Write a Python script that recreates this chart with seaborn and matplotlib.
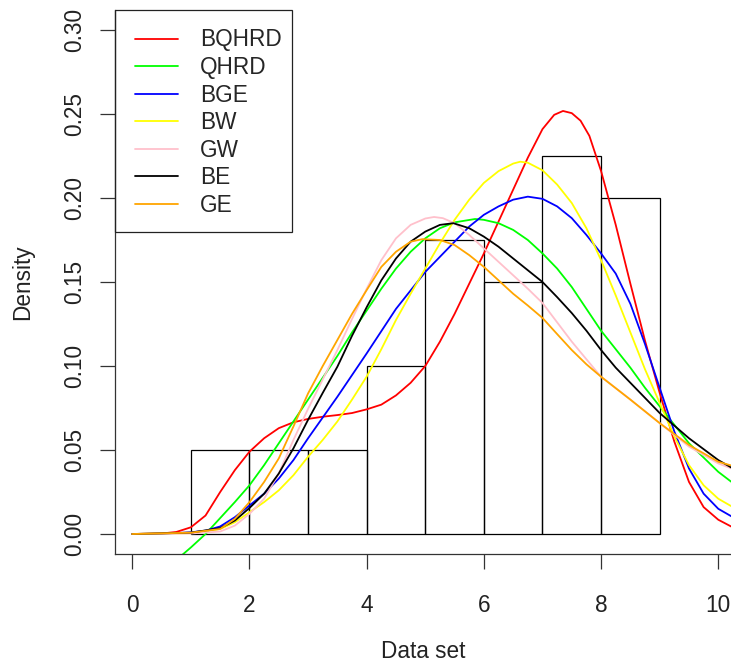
import matplotlib
matplotlib.use('Agg')
import matplotlib.pyplot as plt
from matplotlib.patches import Rectangle
import seaborn as sns

sns.set_style('ticks')
plt.rcParams['font.family'] = ['Liberation Sans', 'DejaVu Sans']

# histogram: bin edges and counts (40 obs)
bin_edges = [1, 2, 3, 4, 5, 6, 7, 8, 9]
bin_mids = [1.5, 2.5, 3.5, 4.5, 5.5, 6.5, 7.5, 8.5]
bin_counts = [2, 2, 2, 4, 7, 6, 9, 8]

# fitted density curves
x_bqhrd = [0, 0.5, 0.75, 1, 1.25, 1.5, 1.75, 2, 2.25, 2.5, 2.75, 3, 3.25, 3.5, 3.75, 4, 4.25, 4.5, 4.75, 5,
           5.25, 5.5, 5.75, 6, 6.25, 6.5, 6.75, 7, 7.2, 7.35, 7.5, 7.65, 7.8, 8, 8.25, 8.5, 8.75, 9,
           9.25, 9.5, 9.75, 10, 10.3]
y_bqhrd = [0, 0.0003, 0.0012, 0.004, 0.011, 0.025, 0.038, 0.049, 0.057, 0.063, 0.0665, 0.0685, 0.0698, 0.0708,
           0.072, 0.0742, 0.077, 0.0825, 0.090, 0.100, 0.1145, 0.131, 0.149, 0.167, 0.186, 0.205, 0.224, 0.241,
           0.2495, 0.2518, 0.2505, 0.246, 0.237, 0.216, 0.184, 0.149, 0.115, 0.084, 0.055, 0.031, 0.016,
           0.0085, 0.003]

x_qhrd = [0.8, 1, 1.25, 1.5, 1.75, 2, 2.25, 2.5, 2.75, 3, 3.25, 3.5, 3.75, 4, 4.25, 4.5, 4.75, 5, 5.25, 5.5,
          5.85, 6, 6.25, 6.5, 6.75, 7, 7.25, 7.5, 7.75, 8, 8.25, 8.5, 8.75, 9, 9.5, 10, 10.3]
y_qhrd = [-0.014, -0.008, 0.0, 0.0095, 0.019, 0.029, 0.041, 0.054, 0.067, 0.080, 0.093, 0.106, 0.120, 0.133,
          0.146, 0.158, 0.168, 0.176, 0.182, 0.1855, 0.1875, 0.187, 0.185, 0.181, 0.175, 0.167, 0.158, 0.147,
          0.134, 0.121, 0.110, 0.099, 0.087, 0.076, 0.054, 0.037, 0.029]

x_bge = [0, 0.5, 1, 1.25, 1.5, 1.75, 2, 2.25, 2.5, 2.75, 3, 3.5, 4, 4.5, 4.75, 5, 5.25, 5.5, 5.75, 6, 6.25,
         6.5, 6.75, 7, 7.25, 7.5, 7.75, 8, 8.25, 8.5, 8.75, 9, 9.25, 9.5, 9.75, 10, 10.3]
y_bge = [0, 0.0001, 0.001, 0.002, 0.0045, 0.010, 0.017, 0.024, 0.033, 0.044, 0.057, 0.0817, 0.1075, 0.134,
         0.145, 0.156, 0.165, 0.174, 0.183, 0.190, 0.195, 0.199, 0.2008, 0.1995, 0.195, 0.188, 0.178, 0.167,
         0.155, 0.137, 0.113, 0.087, 0.061, 0.039, 0.024, 0.015, 0.009]

x_bw = [0, 1, 1.5, 1.75, 2, 2.25, 2.5, 2.75, 3, 3.25, 3.5, 3.75, 4, 4.25, 4.5, 4.75, 5, 5.25, 5.5, 5.75, 6,
        6.25, 6.5, 6.62, 6.75, 7, 7.25, 7.5, 7.75, 8, 8.25, 8.5, 8.75, 9, 9.25, 9.5, 9.75, 10, 10.3]
y_bw = [0, 0.0005, 0.003, 0.007, 0.013, 0.019, 0.026, 0.035, 0.046, 0.056, 0.067, 0.080, 0.0937, 0.110,
        0.1274, 0.143, 0.158, 0.173, 0.187, 0.199, 0.209, 0.216, 0.2205, 0.2216, 0.221, 0.2165, 0.208, 0.197,
        0.182, 0.163, 0.142, 0.120, 0.098, 0.078, 0.058, 0.041, 0.029, 0.021, 0.015]

x_gw = [0, 1, 1.5, 1.75, 2, 2.25, 2.5, 2.75, 3, 3.25, 3.5, 3.75, 4, 4.25, 4.5, 4.75, 5, 5.15, 5.3, 5.5, 5.75,
        6, 6.25, 6.5, 6.75, 7, 7.25, 7.5, 7.75, 8, 8.5, 9, 9.5, 10, 10.3]
y_gw = [0, 0.0003, 0.0015, 0.005, 0.012, 0.021, 0.036, 0.056, 0.0745, 0.092, 0.1095, 0.128, 0.146, 0.163,
        0.176, 0.184, 0.1878, 0.1887, 0.188, 0.185, 0.178, 0.170, 0.162, 0.154, 0.146, 0.1375, 0.126, 0.1145,
        0.104, 0.0936, 0.080, 0.066, 0.052, 0.042, 0.038]

x_be = [0, 1, 1.5, 1.75, 2, 2.25, 2.5, 2.75, 3, 3.25, 3.5, 3.75, 4, 4.25, 4.5, 4.75, 5, 5.25, 5.48, 5.75, 6,
        6.25, 6.5, 6.75, 7, 7.25, 7.5, 7.75, 8, 8.25, 8.5, 8.75, 9, 9.5, 10, 10.3]
y_be = [0, 0.0008, 0.0035, 0.008, 0.0155, 0.024, 0.036, 0.051, 0.068, 0.084, 0.0996, 0.118, 0.135, 0.151,
        0.164, 0.174, 0.180, 0.184, 0.185, 0.182, 0.177, 0.171, 0.164, 0.157, 0.150, 0.141, 0.1315, 0.121,
        0.1095, 0.099, 0.090, 0.081, 0.072, 0.057, 0.044, 0.038]

x_ge = [0, 1, 1.5, 1.75, 2, 2.25, 2.5, 2.75, 3, 3.25, 3.5, 3.75, 4, 4.25, 4.5, 4.75, 4.95, 5.25, 5.5, 5.75, 6,
        6.25, 6.5, 6.75, 7, 7.25, 7.5, 7.75, 8, 8.5, 9, 9.5, 10, 10.3]
y_ge = [0, 0.0008, 0.003, 0.009, 0.019, 0.031, 0.045, 0.064, 0.0837, 0.100, 0.1155, 0.131, 0.1452, 0.159,
        0.168, 0.174, 0.1755, 0.175, 0.172, 0.166, 0.159, 0.151, 0.143, 0.136, 0.1286, 0.119, 0.1095, 0.101,
        0.0936, 0.080, 0.066, 0.053, 0.043, 0.040]

curves = [
    ('BQHRD', x_bqhrd, y_bqhrd, '#FF0000'),
    ('QHRD', x_qhrd, y_qhrd, '#00FF00'),
    ('BGE', x_bge, y_bge, '#0000FF'),
    ('BW', x_bw, y_bw, '#FFFF00'),
    ('GW', x_gw, y_gw, '#FFC0CB'),
    ('BE', x_be, y_be, '#000000'),
    ('GE', x_ge, y_ge, '#FFA500'),
]

x_ticks = [0, 2, 4, 6, 8, 10]
y_ticks = [0.00, 0.05, 0.10, 0.15, 0.20, 0.25, 0.30]

fig = plt.figure(figsize=(7.31, 6.63), dpi=100)
ax = fig.add_axes([115 / 731, 109 / 663, 616 / 731, 544 / 663])

sns.histplot(x=bin_mids, weights=bin_counts, bins=bin_edges, stat='density',
             fill=False, color='black', linewidth=0.9, ax=ax)

for name, xs, ys, col in curves:
    sns.lineplot(x=xs, y=ys, color=col, linewidth=1.3, label=name, ax=ax)

ax.set_xlim(-0.295, 10.217)
ax.set_ylim(-0.0119, 0.3119)
ax.set_xticks(x_ticks)
ax.set_xticklabels([str(t) for t in x_ticks])
ax.set_yticks(y_ticks)
ax.set_yticklabels([f'{t:.2f}' for t in y_ticks], rotation=90, va='center')
ax.tick_params(axis='both', length=10.5, width=0.9, color='#333333',
               labelsize=16.3, labelcolor='#222222')
ax.tick_params(axis='x', pad=18.5)
ax.tick_params(axis='y', pad=10)

for side in ['top', 'right']:
    ax.spines[side].set_visible(False)
for side in ['left', 'bottom']:
    ax.spines[side].set_linewidth(0.9)
    ax.spines[side].set_color('#333333')

ax.set_xlabel('Data set', fontsize=16.3, labelpad=16.5, color='#222222')
ax.set_ylabel('Density', fontsize=16.3, labelpad=21.5, color='#222222')

# legend box in the top-left corner
ax.add_patch(Rectangle((0, 0.5919), 0.2873, 0.4081, transform=ax.transAxes,
                       fill=False, edgecolor='#222222', linewidth=0.9, clip_on=False, zorder=5))
ax.legend(loc='upper left', bbox_to_anchor=(0.0325, 0.966), frameon=False,
          borderpad=0, borderaxespad=0, fontsize=16.3, handlelength=1.9,
          handletextpad=0.97, labelspacing=0.2)

fig.savefig('out.png', dpi=100)
